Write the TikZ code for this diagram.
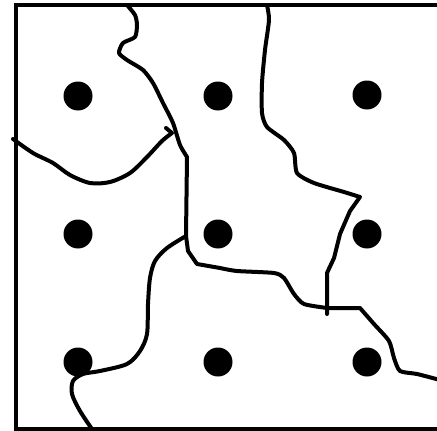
\documentclass[tikz,border=0pt]{standalone}
\usepackage{tikz}

\begin{document}
\begin{tikzpicture}[x=1pt,y=-1pt,
  site/.style={circle,fill=black,inner sep=0pt,minimum size=29pt},
  frame/.style={line width=4pt,line cap=rect},
  border/.style={line width=4pt,line join=round,line cap=round}
]
\useasboundingbox (0,0) rectangle (437,431);
% frame (right side falls outside the picture)
\draw[frame] (440,5) -- (16,5) -- (16,429) -- (440,429);
% sites
\node[site] (s11) at (78,96) {};
\node[site] (s12) at (218,96) {};
\node[site] (s13) at (367,95) {};
\node[site] (s21) at (78,234) {};
\node[site] (s22) at (218,234) {};
\node[site] (s23) at (367,234) {};
\node[site] (s31) at (78,362) {};
\node[site] (s32) at (218,362) {};
\node[site] (s33) at (367,362) {};
% region borders
\draw[border] plot[smooth,tension=0.4] coordinates {(127,5) (135,15) (137,25) (135,37) (123,43) (119,53) (127,60) (143,70) (153,83) (163,103) (173,123) (180,145) (187,157)}
  -- (186,236) -- (188,251) -- (197,264) -- (220,268)
  plot[smooth,tension=0.4] coordinates {(220,268) (237,271) (274,273) (284,278) (294,294) (304,304) (327,308)}
  -- (360,308)
  plot[smooth,tension=0.4] coordinates {(360,308) (374,324) (389,341) (394,358) (400,371) (417,374) (440,380)};
\draw[border] plot[smooth,tension=0.5] coordinates {(13,139) (33,153) (53,163) (70,175) (90,183) (110,182) (130,173) (147,157) (162,141) (172,133)} -- (166,128);
\draw[border] plot[smooth,tension=0.4] coordinates {(267,5) (269,20) (265,50) (262,83) (262,113) (267,127) (284,140) (294,153) (297,173) (314,183) (344,192) (360,197)}
  -- (350,211) -- (340,234) -- (334,258) -- (327,273) -- (327,314);
\draw[border] plot[smooth,tension=0.5] coordinates {(186,236) (167,248) (155,261) (150,278) (148,304) (147,334) (140,351) (127,364) (100,371) (83,374) (73,381) (72,394) (80,411) (94,432)};
\end{tikzpicture}
\end{document}
